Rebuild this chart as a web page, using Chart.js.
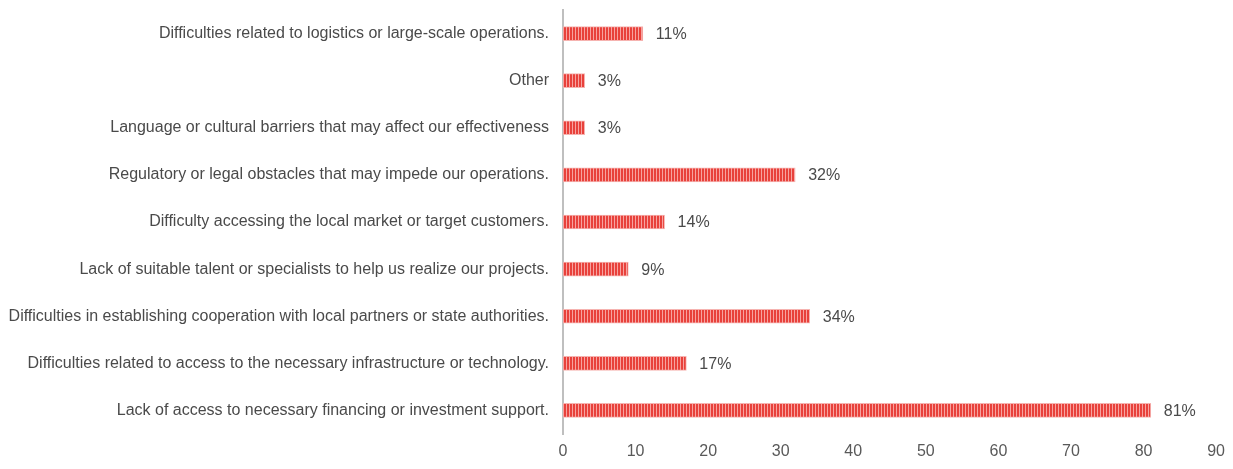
<!DOCTYPE html>
<html>
<head>
<meta charset="utf-8">
<script src="https://cdn.jsdelivr.net/npm/chart.js@4.4.1/dist/chart.umd.min.js"></script>
<style>
  html, body { margin: 0; padding: 0; background: #ffffff; }
  #wrap { width: 1233px; height: 469px; }
</style>
</head>
<body>
<div id="wrap"><canvas id="barriers" width="1233" height="469"></canvas></div>
<script>
// Survey answers, top to bottom
const categories = [
    'Difficulties related to logistics or large-scale operations.',
    'Other',
    'Language or cultural barriers that may affect our effectiveness',
    'Regulatory or legal obstacles that may impede our operations.',
    'Difficulty accessing the local market or target customers.',
    'Lack of suitable talent or specialists to help us realize our projects.',
    'Difficulties in establishing cooperation with local partners or state authorities.',
    'Difficulties related to access to the necessary infrastructure or technology.',
    'Lack of access to necessary financing or investment support.'
];
const shares = [11, 3, 3, 32, 14, 9, 34, 17, 81];
const xTicks = [0, 10, 20, 30, 40, 50, 60, 70, 80, 90];

const FONT = '"Liberation Sans", Arial, sans-serif';

// vertical red/pink stripe fill for the bars
function stripePattern() {
    const c = document.createElement('canvas');
    c.width = 3;
    c.height = 10;
    const g = c.getContext('2d');
    g.fillStyle = '#f7a3a0';
    g.fillRect(0, 0, 3, 10);
    g.fillStyle = '#e8413b';
    g.fillRect(0, 0, 2, 10);
    return g.createPattern(c, 'repeat');
}

// writes "NN%" just past the end of each bar
const valueLabels = {
    id: 'valueLabels',
    afterDatasetsDraw(chart) {
        const ctx = chart.ctx;
        const meta = chart.getDatasetMeta(0);
        ctx.save();
        ctx.font = '16px ' + FONT;
        ctx.fillStyle = '#4a4a4a';
        ctx.textAlign = 'left';
        ctx.textBaseline = 'middle';
        meta.data.forEach((bar, i) => {
            ctx.fillText(shares[i] + '%', bar.x + 13, bar.y + 1);
        });
        ctx.restore();
    }
};

const canvas = document.getElementById('barriers');
new Chart(canvas, {
    type: 'bar',
    data: {
        labels: categories,
        datasets: [{
            data: shares,
            backgroundColor: stripePattern(),
            borderColor: '#f6b3b0',
            borderWidth: 1,
            borderSkipped: 'start',
            barThickness: 14
        }]
    },
    options: {
        indexAxis: 'y',
        responsive: false,
        animation: false,
        layout: {
            padding: { top: 10, right: 14, bottom: 0, left: 0 }
        },
        plugins: {
            legend: { display: false },
            tooltip: { enabled: false }
        },
        scales: {
            x: {
                min: 0,
                max: 90,
                afterBuildTicks: (scale) => {
                    scale.ticks = xTicks.map(v => ({ value: v }));
                },
                afterFit: (scale) => { scale.height = 35; },
                grid: { display: false, drawTicks: false },
                border: { display: false },
                ticks: {
                    color: '#595959',
                    padding: 8,
                    font: { family: FONT, size: 16 }
                }
            },
            y: {
                afterFit: (scale) => {
                    scale.width = 563;
                    scale.paddingTop = 0;
                    scale.paddingBottom = 0;
                },
                grid: { display: false, drawTicks: false },
                border: { display: true, color: '#bfbfbf', width: 2 },
                ticks: {
                    color: '#4a4a4a',
                    padding: 14,
                    font: { family: FONT, size: 16 }
                }
            }
        }
    },
    plugins: [valueLabels]
});
</script>
</body>
</html>
